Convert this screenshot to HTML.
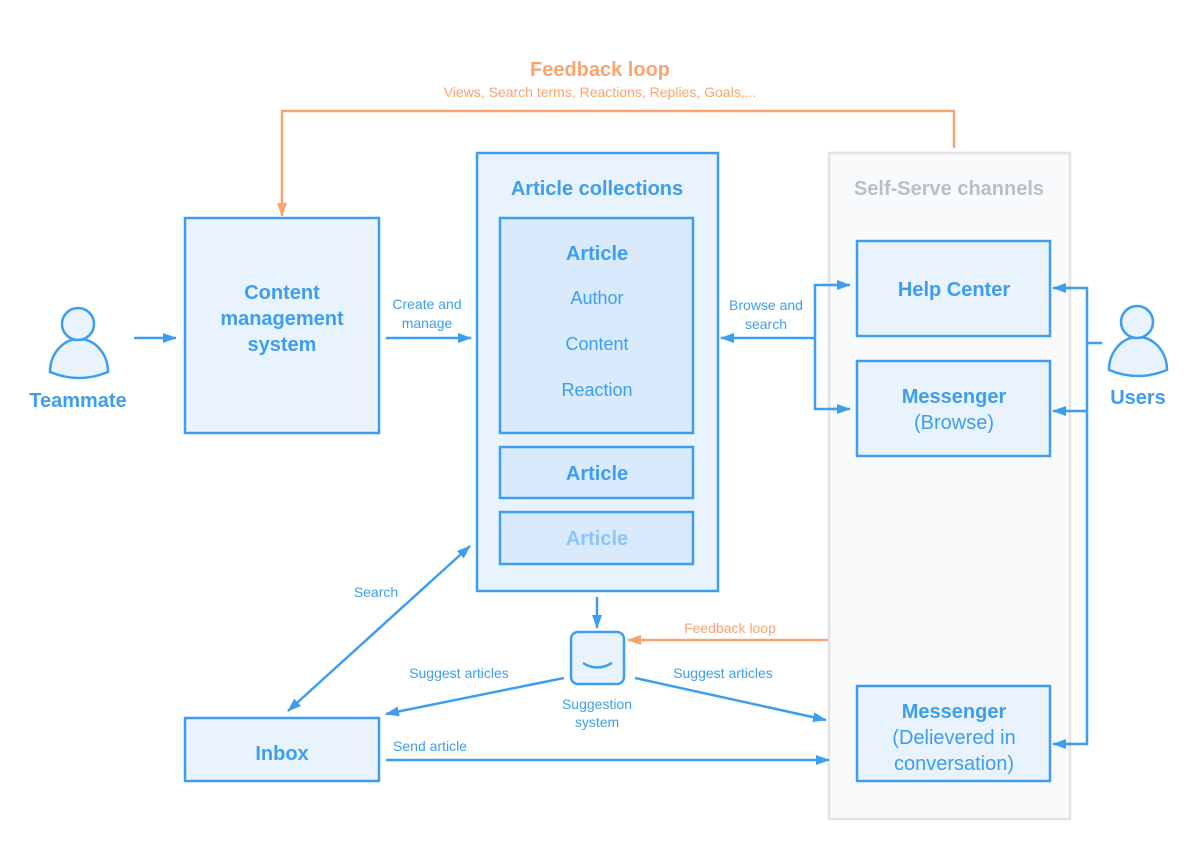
<!DOCTYPE html>
<html><head><meta charset="utf-8"><style>
html,body{margin:0;padding:0;background:#fff;width:1200px;height:848px;overflow:hidden}
svg{display:block}
text{font-family:"Liberation Sans",sans-serif}
.b{fill:#3d9ef0;font-weight:bold;font-size:20px}
.n{fill:#3d9ef0;font-size:18px}
.s{fill:#3d9ef0;font-size:14px}
</style></head><body>
<svg width="1200" height="848" viewBox="0 0 1200 848" xmlns="http://www.w3.org/2000/svg">
<defs>
<marker id="ab" markerWidth="14" markerHeight="10" refX="13" refY="5" orient="auto" markerUnits="userSpaceOnUse"><path d="M0,0 L14,5 L0,10 Z" fill="#3d9ef0"/></marker>
<marker id="as" markerWidth="14" markerHeight="10" refX="1" refY="5" orient="auto" markerUnits="userSpaceOnUse"><path d="M14,0 L0,5 L14,10 Z" fill="#3d9ef0"/></marker>
<marker id="ao" markerWidth="14" markerHeight="10" refX="13" refY="5" orient="auto" markerUnits="userSpaceOnUse"><path d="M0,0 L14,5 L0,10 Z" fill="#f8a470"/></marker>
</defs>
<g stroke="#3d9ef0" stroke-width="2.5" fill="#e9f3fd">
<path d="M50,372 A29,33 0 0 1 108,372 Q79,384 50,372 Z"/>
<circle cx="78" cy="324" r="16"/>
<path d="M1109,370 A29,33 0 0 1 1167,370 Q1138,382 1109,370 Z"/>
<circle cx="1137" cy="322" r="16"/>
<rect x="185" y="218" width="194" height="215"/>
<rect x="477" y="153" width="241" height="438"/>
<rect x="500" y="218" width="193" height="215" fill="#d9eafc"/>
<rect x="500" y="447" width="193" height="51" fill="#d9eafc"/>
<rect x="500" y="512" width="193" height="52" fill="#d9eafc"/>
<rect x="829" y="153" width="241" height="666" stroke="#e1e3e5" fill="#f9fafb"/>
<rect x="857" y="241" width="193" height="95"/>
<rect x="857" y="361" width="193" height="95"/>
<rect x="857" y="686" width="193" height="95"/>
<rect x="185" y="718" width="194" height="63"/>
<rect x="571" y="632" width="53" height="52" rx="7"/>
</g>
<path d="M583,663 Q597,672 612,663" stroke="#3d9ef0" stroke-width="2.5" fill="none"/>
<g stroke="#3d9ef0" stroke-width="2.5" fill="none">
<line x1="134" y1="338" x2="176" y2="338" marker-end="url(#ab)"/>
<line x1="386" y1="338" x2="471" y2="338" marker-end="url(#ab)"/>
<line x1="815" y1="338" x2="721" y2="338" marker-end="url(#ab)"/>
<polyline points="836,285 815,285 815,409 836,409" />
<line x1="830" y1="285" x2="850" y2="285" marker-end="url(#ab)"/>
<line x1="830" y1="409" x2="850" y2="409" marker-end="url(#ab)"/>
<line x1="1102" y1="343" x2="1087" y2="343"/>
<polyline points="1066,288 1087,288 1087,744 1066,744"/>
<line x1="1070" y1="288" x2="1053" y2="288" marker-end="url(#ab)"/>
<line x1="1087" y1="411" x2="1053" y2="411" marker-end="url(#ab)"/>
<line x1="1070" y1="744" x2="1053" y2="744" marker-end="url(#ab)"/>
<line x1="597" y1="597" x2="597" y2="628" marker-end="url(#ab)"/>
<line x1="564" y1="678" x2="386" y2="714" marker-end="url(#ab)"/>
<line x1="635" y1="678" x2="826" y2="720" marker-end="url(#ab)"/>
<line x1="386" y1="760" x2="829" y2="760" marker-end="url(#ab)"/>
<line x1="288" y1="711" x2="470" y2="546" marker-end="url(#ab)" marker-start="url(#as)"/>
</g>
<g stroke="#f8a470" stroke-width="2.5" fill="none">
<polyline points="954,148 954,111 282,111 282,216" marker-end="url(#ao)"/>
<line x1="828" y1="640" x2="628" y2="640" marker-end="url(#ao)"/>
</g>
<g text-anchor="middle">
<text x="600" y="76" style="fill:#f8a470;font-weight:bold;font-size:20px">Feedback loop</text>
<text x="600" y="97" style="fill:#f8a470;font-size:14px">Views, Search terms, Reactions, Replies, Goals,...</text>
<text x="78" y="407" class="b">Teammate</text>
<text x="1138" y="404" class="b">Users</text>
<text x="282" y="299" class="b">Content</text>
<text x="282" y="325" class="b">management</text>
<text x="282" y="351" class="b">system</text>
<text x="427" y="309" class="s">Create and</text>
<text x="427" y="328" class="s">manage</text>
<text x="597" y="195" class="b">Article collections</text>
<text x="597" y="260" class="b">Article</text>
<text x="597" y="304" class="n">Author</text>
<text x="597" y="350" class="n">Content</text>
<text x="597" y="396" class="n">Reaction</text>
<text x="597" y="480" class="b">Article</text>
<text x="597" y="545" class="b" style="fill:#8ec5f6">Article</text>
<text x="949" y="195" class="b" style="fill:#b8c0c7">Self-Serve channels</text>
<text x="766" y="310" class="s">Browse and</text>
<text x="766" y="329" class="s">search</text>
<text x="954" y="296" class="b">Help Center</text>
<text x="954" y="403" class="b">Messenger</text>
<text x="954" y="429" class="n" style="font-size:20px">(Browse)</text>
<text x="954" y="718" class="b">Messenger</text>
<text x="954" y="744" class="n" style="font-size:20px">(Delievered in</text>
<text x="954" y="770" class="n" style="font-size:20px">conversation)</text>
<text x="730" y="633" style="fill:#f8a470;font-size:14px">Feedback loop</text>
<text x="459" y="678" class="s">Suggest articles</text>
<text x="723" y="678" class="s">Suggest articles</text>
<text x="597" y="709" class="s">Suggestion</text>
<text x="597" y="727" class="s">system</text>
<text x="376" y="597" class="s">Search</text>
<text x="282" y="760" class="b">Inbox</text>
<text x="430" y="751" class="s">Send article</text>
</g>
</svg>
</body></html>
